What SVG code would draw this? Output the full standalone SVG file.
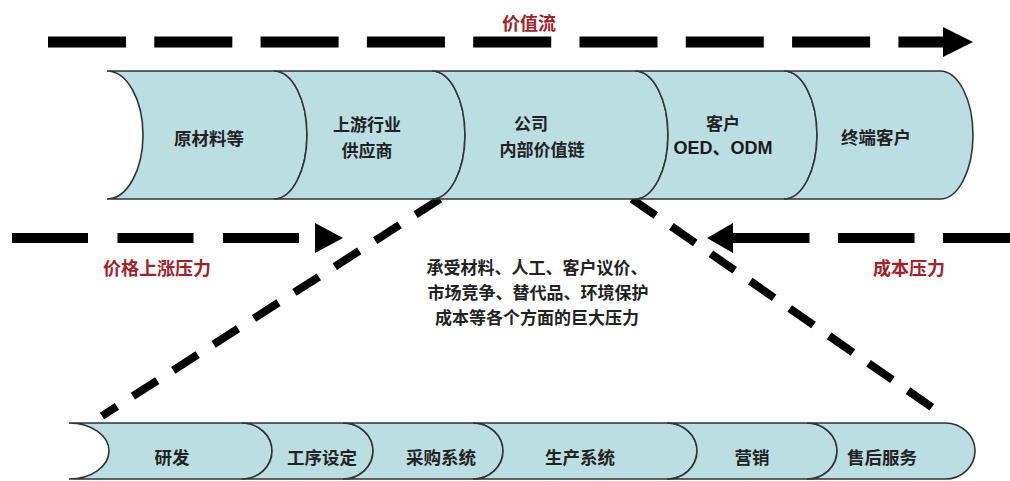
<svg xmlns="http://www.w3.org/2000/svg" width="1010" height="481" viewBox="0 0 1010 481">
<style>
.seg{fill:#badee2;stroke:#333;stroke-width:1.6}
.lbl{font-family:"Noto Sans CJK SC","Liberation Sans",sans-serif;font-size:17.5px;font-weight:700;fill:#222;text-anchor:middle;dominant-baseline:central}
.ml{font-size:17px}
.lat{font-family:"Liberation Sans","Noto Sans CJK SC",sans-serif;font-size:18px;font-weight:700;fill:#1a1a1a;text-anchor:middle;dominant-baseline:central}
.red{font-family:"Noto Sans CJK SC",sans-serif;font-size:18px;font-weight:700;fill:#a3222a;text-anchor:middle;dominant-baseline:central}
.note{font-family:"Noto Sans CJK SC",sans-serif;font-size:17px;font-weight:700;fill:#222;text-anchor:middle;dominant-baseline:central}
.dash{stroke:#000;fill:none}
.head{fill:#000}
</style>
<rect width="1010" height="481" fill="#fff"/>

<g id="connectors">
  <line class="dash" x1="48" y1="42" x2="944" y2="42" stroke-width="11" stroke-dasharray="78 28.3"/>
  <polygon class="head" points="943,27 973,42 943,57"/>
  <line class="dash" x1="12" y1="238" x2="299" y2="238" stroke-width="10" stroke-dasharray="76 29.5"/>
  <polygon class="head" points="315,223 343,238 315,253"/>
  <line class="dash" x1="733" y1="238" x2="1010" y2="238" stroke-width="10" stroke-dasharray="76.5 28.5"/>
  <polygon class="head" points="733,223 707,238 733,253"/>
  <line class="dash" x1="440" y1="199" x2="102" y2="416" stroke-width="8" stroke-dasharray="29 19"/>
  <line class="dash" x1="632" y1="199" x2="933" y2="408" stroke-width="8" stroke-dasharray="29 19"/>
</g>

<g id="title"><text class="red" x="529" y="22">价值流</text></g>
<g id="price-pressure"><text class="red" x="157" y="267">价格上涨压力</text></g>
<g id="cost-pressure"><text class="red" x="909" y="267">成本压力</text></g>

<g id="top-raw">
  <path class="seg" d="M107,71 L274,71 A33,64 0 0 1 274,199 L107,199 A36,64 0 0 0 107,71 Z"/>
  <text class="lbl" x="209" y="137">原材料等</text>
</g>
<g id="top-upstream">
  <path class="seg" d="M274,71 L432,71 A33,64 0 0 1 432,199 L274,199 A33,64 0 0 0 274,71 Z"/>
  <text class="lbl ml" x="367" y="123">上游行业</text>
  <text class="lbl ml" x="367" y="149">供应商</text>
</g>
<g id="top-company">
  <path class="seg" d="M432,71 L635,71 A33,64 0 0 1 635,199 L432,199 A33,64 0 0 0 432,71 Z"/>
  <text class="lbl ml" x="531" y="122">公司</text>
  <text class="lbl ml" x="542" y="148">内部价值链</text>
</g>
<g id="top-customer">
  <path class="seg" d="M635,71 L784,71 A33,64 0 0 1 784,199 L635,199 A33,64 0 0 0 635,71 Z"/>
  <text class="lbl ml" x="723" y="122">客户</text>
  <text class="lat" x="723" y="148">OED、ODM</text>
</g>
<g id="top-end">
  <path class="seg" d="M784,71 L940,71 A33,64 0 0 1 940,199 L784,199 A33,64 0 0 0 784,71 Z"/>
  <text class="lbl" x="876" y="136">终端客户</text>
</g>

<g id="pressure-note">
  <text class="note" x="537" y="266">承受材料、人工、客户议价、</text>
  <text class="note" x="538" y="291">市场竞争、替代品、环境保护</text>
  <text class="note" x="537" y="316">成本等各个方面的巨大压力</text>
</g>

<g id="b-rd">
  <path class="seg" d="M69,423 L242,423 A30,28 0 0 1 242,479 L69,479 A40,28 0 0 0 69,423 Z"/>
  <text class="lbl" x="172" y="456">研发</text>
</g>
<g id="b-process">
  <path class="seg" d="M242,423 L343,423 A30,28 0 0 1 343,479 L242,479 A30,28 0 0 0 242,423 Z"/>
  <text class="lbl" x="322" y="456">工序设定</text>
</g>
<g id="b-purchase">
  <path class="seg" d="M343,423 L473,423 A30,28 0 0 1 473,479 L343,479 A30,28 0 0 0 343,423 Z"/>
  <text class="lbl" x="441" y="456">采购系统</text>
</g>
<g id="b-production">
  <path class="seg" d="M473,423 L667,423 A30,28 0 0 1 667,479 L473,479 A30,28 0 0 0 473,423 Z"/>
  <text class="lbl" x="580" y="456">生产系统</text>
</g>
<g id="b-marketing">
  <path class="seg" d="M667,423 L807,423 A30,28 0 0 1 807,479 L667,479 A30,28 0 0 0 667,423 Z"/>
  <text class="lbl" x="752" y="456">营销</text>
</g>
<g id="b-service">
  <path class="seg" d="M807,423 L945,423 A30,28 0 0 1 945,479 L807,479 A30,28 0 0 0 807,423 Z"/>
  <text class="lbl" x="882" y="456">售后服务</text>
</g>
</svg>
